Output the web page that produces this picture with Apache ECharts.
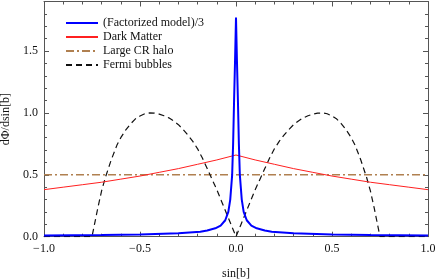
<!DOCTYPE html>
<html><head><meta charset="utf-8">
<script src="https://cdn.jsdelivr.net/npm/echarts@6/dist/echarts.min.js"></script>
<style>html,body{margin:0;padding:0;background:#fff}#c{width:436px;height:280px}</style>
</head><body><div id="c"></div>
<script>
// Data
var factX = [-1.0,-0.7,-0.5,-0.3,-0.186,-0.15,-0.108,-0.08,-0.056,-0.04,-0.03,-0.02,-0.015,-0.01,-0.005,0,0.005,0.01,0.015,0.02,0.03,0.04,0.056,0.08,0.108,0.15,0.186,0.3,0.5,0.7,1.0];
var factY = [0.010,0.013,0.018,0.027,0.040,0.050,0.068,0.090,0.133,0.20,0.30,0.50,0.75,1.10,1.42,1.77,1.42,1.10,0.75,0.50,0.30,0.20,0.133,0.090,0.068,0.050,0.040,0.027,0.018,0.013,0.010];
var dmX = [-1.0,-0.9,-0.8,-0.7,-0.6,-0.5,-0.4,-0.3,-0.2,-0.1,0,0.1,0.2,0.3,0.4,0.5,0.6,0.7,0.8,0.9,1.0];
var dmY = [0.38,0.40,0.42,0.44,0.465,0.49,0.52,0.55,0.585,0.62,0.66,0.62,0.585,0.55,0.52,0.49,0.465,0.44,0.42,0.40,0.38];
var haloX = [-1.0,1.0];
var haloY = [0.5,0.5];
var fbX = [-1.0,-0.75,-0.72,-0.7,-0.68,-0.65,-0.62,-0.6,-0.575,-0.55,-0.525,-0.5,-0.475,-0.45,-0.425,-0.4,-0.375,-0.35,-0.325,-0.3,-0.275,-0.25,-0.225,-0.2,-0.175,-0.15,-0.125,-0.1,-0.075,-0.05,-0.025,0,
            0.025,0.05,0.075,0.1,0.125,0.15,0.175,0.2,0.225,0.25,0.275,0.3,0.325,0.35,0.375,0.4,0.425,0.45,0.475,0.5,0.525,0.55,0.575,0.6,0.62,0.65,0.68,0.7,0.72,0.75,1.0];
var fbY = [0,0,0.23,0.37,0.48,0.62,0.74,0.80,0.86,0.91,0.95,0.975,0.993,1.0,0.998,0.99,0.977,0.96,0.935,0.905,0.865,0.82,0.77,0.71,0.635,0.55,0.465,0.38,0.285,0.19,0.095,0,
           0.095,0.19,0.285,0.38,0.465,0.55,0.635,0.71,0.77,0.82,0.865,0.905,0.935,0.96,0.977,0.99,0.998,1.0,0.993,0.975,0.95,0.91,0.86,0.80,0.74,0.62,0.48,0.37,0.23,0,0];
var names = ['(Factorized model)/3','Dark Matter','Large CR halo','Fermi bubbles'];

function pairs(xs, ys){ return xs.map(function(x,i){return [x, ys[i]];}); }
function fmt(v){ var s = v.toFixed(1); return s.replace('-', '\u2212'); }
var font = 'Liberation Serif';
var frameColor = '#555';
function xa(pos, show){
  return {type:'value', position:pos, min:-1, max:1, interval:0.5,
    axisLine:{show:true, onZero:false, lineStyle:{color:frameColor, width:1}},
    axisTick:{show:true, inside:true, length:5, lineStyle:{color:frameColor}},
    minorTick:{show:true, splitNumber:5, length:3, lineStyle:{color:frameColor}},
    splitLine:{show:false},
    axisLabel:{show:show, formatter:fmt, fontFamily:font, fontSize:12, color:'#111', margin:6},
    name: show ? 'sin[b]' : '', nameLocation:'middle', nameGap:31,
    nameTextStyle:{fontFamily:font, fontSize:12, color:'#111'}};
}
function ya(pos, show){
  return {type:'value', position:pos, min:0, max:1.9, interval:0.5,
    axisLine:{show:true, onZero:false, lineStyle:{color:frameColor, width:1}},
    axisTick:{show:true, inside:true, length:5, lineStyle:{color:frameColor}},
    minorTick:{show:true, splitNumber:5, length:3, lineStyle:{color:frameColor}},
    splitLine:{show:false},
    axisLabel:{show:show, formatter:fmt, fontFamily:font, fontSize:12, color:'#111', margin:6, showMaxLabel:false},
    name: show ? 'd\u03A6/dsin[b]' : '', nameLocation:'middle', nameGap:23, nameRotate:90,
    nameTextStyle:{fontFamily:font, fontSize:12, color:'#111'}};
}
var chart = echarts.init(document.getElementById('c'), null, {renderer:'canvas'});
chart.setOption({
  animation:false,
  backgroundColor:'#fff',
  grid:{left:44, right:8, top:1.5, bottom:43.3, containLabel:false, outerBoundsMode:'none'},
  xAxis:[xa('bottom', true), xa('top', false)],
  yAxis:[ya('left', true), ya('right', false)],
  legend:{orient:'vertical', left:60, top:12, itemWidth:32, itemHeight:10, itemGap:2,
    itemStyle:{opacity:0, borderWidth:0},
    textStyle:{fontFamily:font, fontSize:12, color:'#111'}, data:names},
  series:[
    {name:names[2], type:'line', symbol:'none', data:pairs(haloX, haloY), z:1,
      lineStyle:{color:'#b08050', width:1.5, type:[8,3,2,3]}, color:'#b08050'},
    {name:names[3], type:'line', symbol:'none', data:pairs(fbX, fbY), z:2,
      lineStyle:{color:'#111', width:1.2, type:[6,4]}, color:'#111'},
    {name:names[1], type:'line', symbol:'none', data:pairs(dmX, dmY), z:3,
      lineStyle:{color:'#ff2020', width:1}, color:'#ff2020'},
    {name:names[0], type:'line', symbol:'none', data:pairs(factX, factY), z:4,
      lineStyle:{color:'#0000ff', width:2}, color:'#0000ff'}
  ]
});
</script></body></html>
